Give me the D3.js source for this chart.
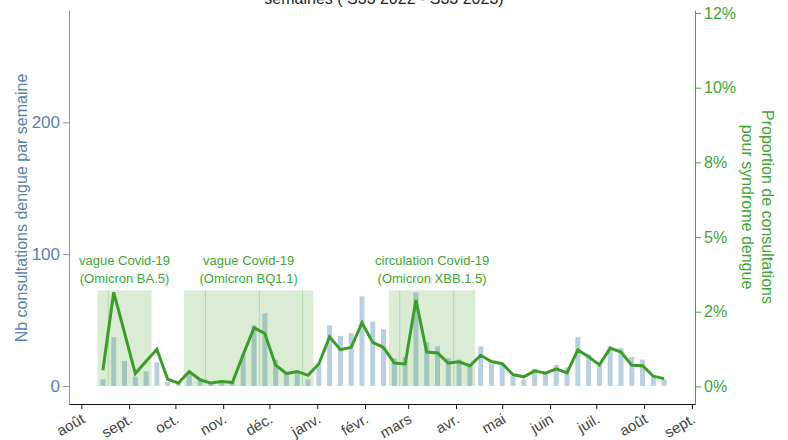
<!DOCTYPE html>
<html>
<head>
<meta charset="utf-8">
<script src="https://cdn.jsdelivr.net/npm/d3@7"></script>
<style>
  body { margin: 0; background: #fff; }
  text { font-family: "Liberation Sans", Arial, sans-serif; }
</style>
</head>
<body>
<div id="chart"></div>
<script>
// semaines (lundi de début de semaine)
const weeks = [
  "2022-08-15","2022-08-22","2022-08-29","2022-09-05","2022-09-12","2022-09-19","2022-09-26",
  "2022-10-03","2022-10-10","2022-10-17","2022-10-24","2022-10-31","2022-11-07","2022-11-14",
  "2022-11-21","2022-11-28","2022-12-05","2022-12-12","2022-12-19","2022-12-26","2023-01-02",
  "2023-01-09","2023-01-16","2023-01-23","2023-01-30","2023-02-06","2023-02-13","2023-02-20",
  "2023-02-27","2023-03-06","2023-03-13","2023-03-20","2023-03-27","2023-04-03","2023-04-10",
  "2023-04-17","2023-04-24","2023-05-01","2023-05-08","2023-05-15","2023-05-22","2023-05-29",
  "2023-06-05","2023-06-12","2023-06-19","2023-06-26","2023-07-03","2023-07-10","2023-07-17",
  "2023-07-24","2023-07-31","2023-08-07","2023-08-14"
];
// nb consultations dengue par semaine
const counts = [5,37,19,7,11,18,3,2,9,4,3,4,3,24,46,55,20,10,10,5,17,46,38,40,68,49,43,21,22,71,
  33,30,21,20,16,30,17,17,8,5,13,10,16,14,37,24,16,30,29,22,20,8,5];
// proportion de consultations pour syndrome dengue (%)
const proportions = [0.54,3.15,1.8,0.43,0.84,1.24,0.24,0.11,0.5,0.22,0.11,0.16,0.13,1.07,1.96,1.77,
  0.71,0.43,0.5,0.37,0.75,1.66,1.23,1.3,2.13,1.47,1.3,0.78,0.75,2.89,1.15,1.12,0.78,0.82,0.69,
  1.04,0.83,0.76,0.39,0.32,0.52,0.44,0.59,0.45,1.22,0.99,0.72,1.28,1.15,0.71,0.69,0.34,0.26];

// périodes Covid-19
const periodStart = ["2022-08-15","2022-10-10","2023-02-20"];
const periodEnd = ["2022-09-12","2022-12-26","2023-04-10"];
const periodLine1 = ["vague Covid-19","vague Covid-19","circulation Covid-19"];
const periodLine2 = ["(Omicron BA.5)","(Omicron BQ1.1)","(Omicron XBB.1.5)"];
const periodSplits = ["2022-08-15","2022-10-17","2022-11-21","2022-12-19","2023-02-20","2023-03-27"];

const monthTicks = ["2022-08-01","2022-09-01","2022-10-01","2022-11-01","2022-12-01","2023-01-01",
  "2023-02-01","2023-03-01","2023-04-01","2023-05-01","2023-06-01","2023-07-01","2023-08-01","2023-09-01"];
const monthLabels = ["août","sept.","oct.","nov.","déc.","janv.","févr.","mars","avr.","mai","juin",
  "juil.","août","sept."];
const leftTicks = [0, 100, 200];
const rightTicks = [0, 2.5, 5, 7.5, 10, 12.5];
const rightTickLabels = ["0%","2%","5%","8%","10%","12%"];

const width = 788, height = 440;
const parse = d3.timeParse("%Y-%m-%d");
const halfWeek = d => new Date(+d + 3.5 * 864e5);
const halfWeekBefore = d => new Date(+d - 3.5 * 864e5);

const blue = "#5b7fae", green = "#3c9c2a";

let data = weeks.map((w, i) => ({ date: parse(w), n: counts[i], p: proportions[i] }));

let svg = d3.select('#chart')
  .append('svg')
  .attr("width", width)
  .attr("height", height);

let x = d3.scaleTime()
  .domain([new Date(2022, 6, 24), new Date(2023, 8, 3)])
  .range([69, 695]);

let yL = d3.scaleLinear()
  .domain([-13.7, 285.2])
  .range([404, 10]);

let yR = d3.scaleLinear()
  .domain([-0.59, 12.6])
  .range([404, 10]);

// titre (coupé en haut)
svg.append('text')
  .attr('x', 384)
  .attr('y', 4)
  .style('text-anchor', 'middle')
  .style('font-size', '16px')
  .attr('fill', '#222')
  .text('semaines ( S33 2022 - S33 2023)');

// barres
svg.append('g')
  .selectAll('rect')
  .data(data)
  .enter()
  .append('rect')
    .attr('x', d => x(d.date) - 2.5)
    .attr('width', 5)
    .attr('y', d => yL(d.n))
    .attr('height', d => yL(0) - yL(d.n))
    .attr('fill', '#b9d0e1');

// zones Covid
let shadeTop = yL(72.5);
svg.append('g')
  .selectAll('rect')
  .data(periodStart)
  .enter()
  .append('rect')
    .attr('x', (d, i) => x(halfWeekBefore(parse(d))))
    .attr('width', (d, i) => x(halfWeek(parse(periodEnd[i]))) - x(halfWeekBefore(parse(d))))
    .attr('y', shadeTop)
    .attr('height', yL(0) - shadeTop)
    .attr('fill', '#45a22a')
    .attr('fill-opacity', 0.2);

svg.append('g')
  .selectAll('line')
  .data(periodSplits)
  .enter()
  .append('line')
    .attr('x1', d => x(halfWeek(parse(d))))
    .attr('x2', d => x(halfWeek(parse(d))))
    .attr('y1', shadeTop)
    .attr('y2', yL(0))
    .attr('stroke', '#45a22a')
    .attr('stroke-opacity', 0.25)
    .attr('stroke-width', 1);

// courbe proportion
svg.append('path')
  .datum(data)
  .attr('fill', 'none')
  .attr('stroke', green)
  .attr('stroke-width', 3)
  .attr('stroke-linejoin', 'miter')
  .attr('d', d3.line().x(d => x(d.date)).y(d => yR(d.p)));

// libellés des périodes
let labels = svg.append('g')
  .selectAll('text')
  .data(periodStart)
  .enter()
  .append('text')
    .attr('fill', '#3fa535')
    .style('font-size', '13px')
    .style('text-anchor', 'middle')
    .attr('transform', (d, i) => {
      let cx = (x(halfWeekBefore(parse(d))) + x(halfWeek(parse(periodEnd[i])))) / 2;
      return `translate(${cx}, 265)`;
    });
labels.append('tspan').attr('x', 0).attr('y', 0).text((d, i) => periodLine1[i]);
labels.append('tspan').attr('x', 0).attr('y', 18).text((d, i) => periodLine2[i]);

// axe gauche
let axL = svg.append('g')
  .attr('transform', 'translate(69, 0)')
  .call(d3.axisLeft(yL).tickValues(leftTicks).tickSize(6).tickSizeOuter(0));
axL.select('.domain').attr('stroke', '#7f97b6');
axL.selectAll('.tick line').attr('stroke', '#7f97b6');
axL.selectAll('.tick text')
  .attr('fill', blue)
  .style('font-size', '17px')
  .style('font-family', '"Liberation Sans", Arial, sans-serif');

// axe droit
let axR = svg.append('g')
  .attr('transform', 'translate(695, 0)')
  .call(d3.axisRight(yR).tickValues(rightTicks).tickFormat((d, i) => rightTickLabels[i]).tickSize(6).tickSizeOuter(0));
axR.select('.domain').attr('stroke', '#4aa83a');
axR.selectAll('.tick line').attr('stroke', '#4aa83a');
axR.selectAll('.tick text')
  .attr('fill', '#3fa535')
  .style('font-size', '16px')
  .style('font-family', '"Liberation Sans", Arial, sans-serif');

// axe du bas
let axB = svg.append('g')
  .attr('transform', 'translate(0, 404)')
  .call(d3.axisBottom(x).tickValues(monthTicks.map(parse)).tickFormat((d, i) => monthLabels[i]).tickSize(5).tickSizeOuter(0));
axB.select('.domain').attr('stroke', '#111');
axB.selectAll('.tick line').attr('stroke', '#111');
axB.selectAll('.tick text')
  .attr('fill', '#444')
  .style('font-size', '15px')
  .style('font-family', '"Liberation Sans", Arial, sans-serif')
  .style('text-anchor', 'end')
  .attr('dy', null)
  .attr('y', 0)
  .attr('transform', 'translate(4, 18) rotate(-30)');

// titres des axes
svg.append('text')
  .attr('transform', 'translate(27, 208) rotate(-90)')
  .style('text-anchor', 'middle')
  .style('font-size', '16px')
  .attr('fill', blue)
  .text('Nb consultations dengue par semaine');

let tR = svg.append('text')
  .attr('transform', 'translate(762, 207) rotate(90)')
  .style('text-anchor', 'middle')
  .style('font-size', '16px')
  .attr('fill', '#3fa535');
tR.append('tspan').attr('x', 0).attr('y', 0).text('Proportion de consultations');
tR.append('tspan').attr('x', 0).attr('y', 20).text('pour syndrome dengue');
</script>
</body>
</html>
